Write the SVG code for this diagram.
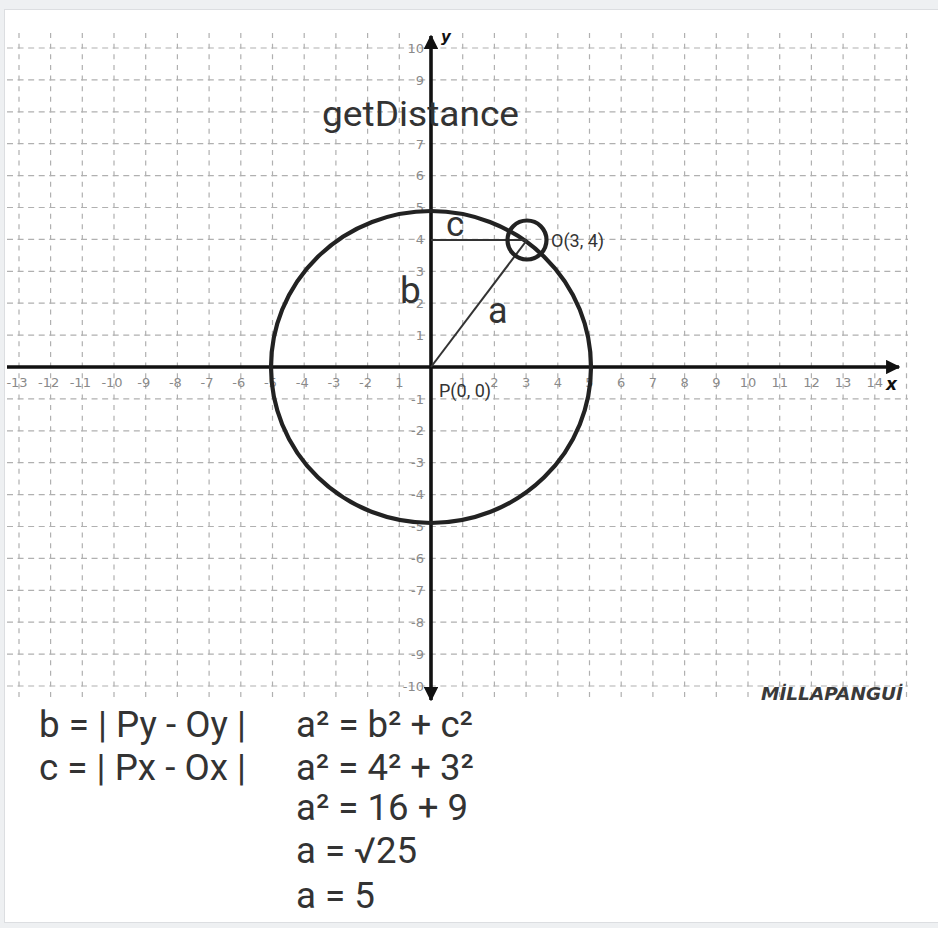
<svg xmlns="http://www.w3.org/2000/svg" width="938" height="928" viewBox="0 0 938 928">
<defs>
<style>
.grid-h{fill:none;stroke:#b0b0b0;stroke-width:1.2;stroke-dasharray:6 4.57}
.grid-v{fill:none;stroke:#b0b0b0;stroke-width:1.2;stroke-dasharray:5 5.63}
.axis{fill:none;stroke:#111;stroke-width:3.6}
.tick{font-family:"DejaVu Sans",sans-serif;font-size:13px;fill:#8a8a8a}
.tx{text-anchor:middle}
.ty{text-anchor:end}
.lbl{font-family:Roboto,"Liberation Sans",sans-serif;fill:#333}
.eq{font-family:Roboto,"Liberation Sans",sans-serif;font-size:36px;fill:#333}
.thin{fill:none;stroke:#333;stroke-width:2}
.thick{fill:none;stroke:#222;stroke-width:4.2}
</style>
<marker id="ah" viewBox="0 0 10 10" refX="9" refY="5" markerWidth="4" markerHeight="4" markerUnits="strokeWidth" orient="auto">
<path d="M0,0 L10,5 L0,10 z" fill="#111"/>
</marker>
</defs>
<rect x="0" y="0" width="938" height="928" fill="#eef0f2"/>
<rect x="4.5" y="9.5" width="940" height="913" fill="#ffffff" stroke="#dcdee1" stroke-width="1"/>

<g id="grid">
<path class="grid-h" d="M7 48H908M7 79.9H908M7 111.8H908M7 143.7H908M7 175.6H908M7 207.5H908M7 239.4H908M7 271.3H908M7 303.2H908M7 335.1H908M7 398.9H908M7 430.8H908M7 462.7H908M7 494.6H908M7 526.5H908M7 558.4H908M7 590.3H908M7 622.2H908M7 654.1H908M7 686H908"/>
<path class="grid-v" d="M19 33V700M50.6 33V700M82.3 33V700M114 33V700M145.7 33V700M177.4 33V700M209.1 33V700M240.8 33V700M272.5 33V700M304.2 33V700M335.9 33V700M367.6 33V700M399.3 33V700M462.7 33V700M494.4 33V700M526.1 33V700M557.8 33V700M589.5 33V700M621.2 33V700M652.9 33V700M684.6 33V700M716.3 33V700M748 33V700M779.7 33V700M811.4 33V700M843.1 33V700M874.8 33V700M906.5 33V700"/>
</g>

<g id="ticks-x" class="tick tx">
<text x="17" y="387">-13</text><text x="48.6" y="387">-12</text><text x="80.3" y="387">-11</text><text x="112" y="387">-10</text><text x="143.7" y="387">-9</text><text x="175.4" y="387">-8</text><text x="207.1" y="387">-7</text><text x="238.8" y="387">-6</text><text x="270.5" y="387">-5</text><text x="302.2" y="387">-4</text><text x="333.9" y="387">-3</text><text x="365.6" y="387">-2</text><text x="399.3" y="387">1</text><text x="462.7" y="387">1</text><text x="494.4" y="387">2</text><text x="526.1" y="387">3</text><text x="557.8" y="387">4</text><text x="589.5" y="387">5</text><text x="621.2" y="387">6</text><text x="652.9" y="387">7</text><text x="684.6" y="387">8</text><text x="716.3" y="387">9</text><text x="748" y="387">10</text><text x="779.7" y="387">11</text><text x="811.4" y="387">12</text><text x="843.1" y="387">13</text><text x="874.8" y="387">14</text>
</g>
<g id="ticks-y" class="tick ty">
<text x="424" y="53">10</text><text x="424" y="85">9</text><text x="424" y="149">7</text><text x="424" y="180">6</text><text x="424" y="212">5</text><text x="424" y="244">4</text><text x="424" y="276">3</text><text x="424" y="308">2</text><text x="424" y="340">1</text><text x="424" y="404">-1</text><text x="424" y="435">-2</text><text x="424" y="467">-3</text><text x="424" y="499">-4</text><text x="424" y="531">-5</text><text x="424" y="563">-6</text><text x="424" y="595">-7</text><text x="424" y="627">-8</text><text x="424" y="659">-9</text><text x="424" y="691">-10</text>
</g>

<g id="axes">
<line class="axis" x1="7" y1="367" x2="899" y2="367" marker-end="url(#ah)"/>
<line class="axis" x1="431" y1="367" x2="431" y2="36" marker-end="url(#ah)"/>
<line class="axis" x1="431" y1="367" x2="431" y2="700" stroke-width="2.8" marker-end="url(#ah)"/>
<text x="886" y="390" font-family="DejaVu Sans,sans-serif" font-size="17" font-weight="bold" font-style="italic" fill="#111">x</text>
<text x="441" y="42" font-family="DejaVu Sans,sans-serif" font-size="15" font-weight="bold" font-style="italic" fill="#111">y</text>
</g>

<g id="title">
<text class="lbl" x="322" y="126" font-size="35" textLength="197" lengthAdjust="spacingAndGlyphs">getDistance</text>
</g>

<g id="circle">
<ellipse class="thick" cx="431" cy="367" rx="160" ry="156"/>
</g>

<g id="connectors">
<line class="thin" x1="431" y1="240" x2="527" y2="240"/>
<line class="thin" x1="431" y1="367" x2="527" y2="240"/>
</g>

<g id="point-O">
<circle class="thick" cx="527" cy="240" r="19.5"/>
<text class="lbl" x="551" y="247" font-size="18">O(3, 4)</text>
</g>
<g id="point-P">
<text class="lbl" x="439" y="397" font-size="18">P(0, 0)</text>
</g>

<g id="labels">
<text class="lbl" x="446" y="236" font-size="35">c</text>
<text class="lbl" x="400" y="303" font-size="37">b</text>
<text class="lbl" x="488" y="323" font-size="36">a</text>
</g>

<g id="watermark">
<text x="761" y="700" font-family="DejaVu Sans,sans-serif" font-size="17" font-weight="bold" font-style="italic" fill="#3a3a3a" textLength="142" lengthAdjust="spacingAndGlyphs">MİLLAPANGUİ</text>
</g>

<g id="equations">
<text class="eq" x="39" y="737" textLength="207" lengthAdjust="spacingAndGlyphs">b = | Py - Oy |</text>
<text class="eq" x="39" y="780" textLength="207" lengthAdjust="spacingAndGlyphs">c = | Px - Ox |</text>
<text class="eq" x="296" y="737" textLength="177" lengthAdjust="spacingAndGlyphs">a² = b² + c²</text>
<text class="eq" x="296" y="780" textLength="178" lengthAdjust="spacingAndGlyphs">a² = 4² + 3²</text>
<text class="eq" x="296" y="820" textLength="172" lengthAdjust="spacingAndGlyphs">a² = 16 + 9</text>
<text class="eq" x="296" y="863" textLength="121" lengthAdjust="spacingAndGlyphs">a = √25</text>
<text class="eq" x="296" y="908" textLength="79" lengthAdjust="spacingAndGlyphs">a = 5</text>
</g>
</svg>
